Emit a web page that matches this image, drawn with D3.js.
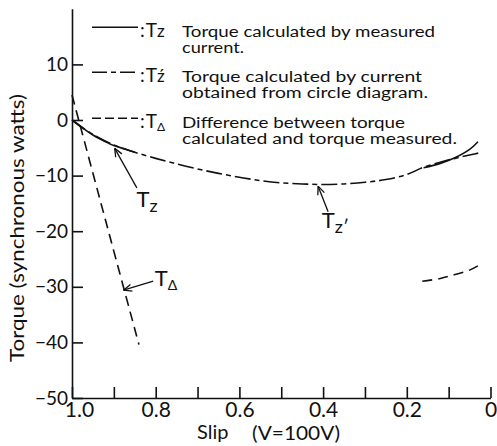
<!DOCTYPE html>
<html>
<head>
<meta charset="utf-8">
<script src="https://cdn.jsdelivr.net/npm/d3@7/dist/d3.min.js"></script>
<style>
  body { margin: 0; background: #fff; }
  svg { display: block; }
  text { font-family: Lato, "Noto Sans", sans-serif; fill: #111; }
</style>
</head>
<body>
<div class="draw-chart"></div>
<script>
// axis ticks
const slipTicks = [1.0, 0.9, 0.8, 0.7, 0.6, 0.5, 0.4, 0.3, 0.2, 0.1, 0];
const slipLabels = { "1": "1.0", "0.8": "0.8", "0.6": "0.6", "0.4": "0.4", "0.2": "0.2", "0": "0" };
const torqueTicks = [10, 0, -10, -20, -30, -40, -50];

// Tz : torque calculated by measured current (two measured ranges)
const tzSlip1 = [1.0, 0.97, 0.95, 0.92, 0.9, 0.87, 0.85];
const tzVal1 = [0, -1.7, -2.7, -3.9, -4.6, -5.3, -5.8];
const tzSlip2 = [0.16, 0.12, 0.085, 0.05, 0.03];
const tzVal2 = [-8.6, -7.8, -6.8, -5.3, -3.9];

// Tz' : torque calculated by current from circle diagram
const tzpSlip = [1.0, 0.95, 0.9, 0.85, 0.8, 0.75, 0.7, 0.65, 0.6, 0.55, 0.5, 0.45, 0.4, 0.35, 0.3, 0.25, 0.2, 0.16, 0.12, 0.085, 0.05, 0.02];
const tzpVal = [0, -2.6, -4.5, -5.8, -6.9, -7.9, -8.8, -9.6, -10.3, -10.9, -11.3, -11.5, -11.6, -11.5, -11.2, -10.7, -9.8, -8.5, -7.6, -6.9, -6.3, -5.8];

// T delta : difference between calculated and measured torque
const tdSlip1 = [1.0, 0.92, 0.84];
const tdVal1 = [4.5, -18.0, -40.4];
const tdSlip2 = [0.163, 0.12, 0.09, 0.05, 0.018];
const tdVal2 = [-29.0, -28.5, -27.9, -27.0, -25.7];

// legend rows
const legendSub = ["z", "ź", "Δ"];
const legendText = [
  ["Torque calculated by measured", "current."],
  ["Torque calculated by current", "obtained from circle diagram."],
  ["Difference between torque", "calculated and torque measured."]
];
const legendWidth = [[253, 62], [240, 246], [223, 275]];
const legendDash = ["none", "15,4,5,4", "9,4"];

// curve labels with arrows: [label sub, tail, tip, text position]
const notes = [
  { sub: "z", tail: [0.845, -12.2], tip: [0.898, -5.1], at: [0.846, -15.6] },
  { sub: "z", prime: true, tail: [0.388, -16.5], tip: [0.412, -11.9], at: [0.403, -19.4] },
  { sub: "Δ", tail: [0.806, -29.0], tip: [0.877, -30.6], at: [0.802, -29.8] }
];

const W = 497, H = 446;
const svg = d3.select(".draw-chart").append("svg")
  .attr("width", W).attr("height", H);

const x = d3.scaleLinear().domain([1.0, 0]).range([72, 490.5]);
const y = d3.scaleLinear().domain([-50, 20]).range([398, 8.8]);

// axes
const xAxis = svg.append("g")
  .attr("transform", "translate(0," + y(-50) + ")")
  .call(d3.axisBottom(x)
    .tickValues(slipTicks)
    .tickSize(-11)
    .tickSizeOuter(0)
    .tickPadding(4)
    .tickFormat(d => slipLabels[String(+d.toFixed(1))] || ""));
xAxis.selectAll("text")
  .attr("font-size", 21)
  .attr("font-family", "Lato, sans-serif")
  .attr("dx", d => d === 1 ? 7 : 0);

const yAxis = svg.append("g")
  .attr("transform", "translate(" + x(1.0) + ",0)")
  .call(d3.axisLeft(y)
    .tickValues(torqueTicks)
    .tickSize(-11)
    .tickSizeOuter(0)
    .tickPadding(4)
    .tickFormat(d => d < 0 ? "−" + Math.abs(d) : String(d)));
yAxis.selectAll("text").attr("font-size", 19).attr("font-family", "Lato, sans-serif");

svg.selectAll(".domain, .tick line").attr("stroke", "#111").attr("stroke-width", 1.6);

// axis titles
svg.append("text")
  .attr("x", 197).attr("y", 439)
  .attr("font-size", 20)
  .text("Slip");
svg.append("text")
  .attr("x", 252).attr("y", 440)
  .attr("font-size", 19)
  .attr("textLength", 88).attr("lengthAdjust", "spacingAndGlyphs")
  .text("(V=100V)");
svg.append("text")
  .attr("transform", "translate(24,228) rotate(-90)")
  .attr("text-anchor", "middle")
  .attr("font-size", 20)
  .attr("textLength", 268).attr("lengthAdjust", "spacingAndGlyphs")
  .text("Torque (synchronous watts)");

// curves
const line = d3.line()
  .x(d => x(d[0]))
  .y(d => y(d[1]))
  .curve(d3.curveCatmullRom.alpha(0.5));

function drawCurve(slips, vals, dash) {
  svg.append("path")
    .datum(d3.zip(slips, vals))
    .attr("fill", "none")
    .attr("stroke", "#111")
    .attr("stroke-width", 1.6)
    .attr("stroke-dasharray", dash)
    .attr("d", line);
}

drawCurve(tzpSlip, tzpVal, "16,4,5,4");
drawCurve(tzSlip1, tzVal1, "none");
drawCurve(tzSlip2, tzVal2, "none");
drawCurve(tdSlip1, tdVal1, "10,6");
drawCurve(tdSlip2, tdVal2, "10,6");

// legend
const legend = svg.append("g");
[27.3, 72.3, 118.3].forEach(function (ly, i) {
  legend.append("line")
    .attr("x1", 92).attr("x2", 138)
    .attr("y1", ly).attr("y2", ly)
    .attr("stroke", "#111").attr("stroke-width", 1.6)
    .attr("stroke-dasharray", legendDash[i]);
  let sym = legend.append("text")
    .attr("x", 140).attr("y", ly + 10)
    .attr("font-size", 19);
  sym.append("tspan").text(":");
  sym.append("tspan").attr("dx", 2).text("T");
  sym.append("tspan").attr("font-size", i === 2 ? 12 : 17).attr("dy", i === 2 ? 3 : 0).text(legendSub[i]);
  legendText[i].forEach(function (t, j) {
    legend.append("text")
      .attr("x", 182).attr("y", ly + 9.5 + j * 16.5)
      .attr("font-size", 15.5)
      .attr("font-family", "'DejaVu Sans', sans-serif")
      .attr("textLength", legendWidth[i][j])
      .attr("lengthAdjust", "spacingAndGlyphs")
      .text(t);
  });
});

// annotation arrows
notes.forEach(function (n) {
  const x0 = x(n.tail[0]), y0 = y(n.tail[1]);
  const x1 = x(n.tip[0]), y1 = y(n.tip[1]);
  const a = Math.atan2(y0 - y1, x0 - x1);
  const g = svg.append("g").attr("stroke", "#111").attr("stroke-width", 1.3).attr("fill", "none");
  g.append("line").attr("x1", x0).attr("y1", y0).attr("x2", x1).attr("y2", y1);
  [-0.4, 0.4].forEach(function (da) {
    g.append("line")
      .attr("x1", x1).attr("y1", y1)
      .attr("x2", x1 + 9 * Math.cos(a + da))
      .attr("y2", y1 + 9 * Math.sin(a + da));
  });
  const t = svg.append("text")
    .attr("x", x(n.at[0])).attr("y", y(n.at[1]))
    .attr("font-size", 22);
  t.append("tspan").text("T");
  t.append("tspan").attr("font-size", n.sub === "Δ" ? 14 : 18).attr("dy", n.sub === "Δ" ? 4 : 5).text(n.sub + (n.prime ? "′" : ""));
});
</script>
</body>
</html>
